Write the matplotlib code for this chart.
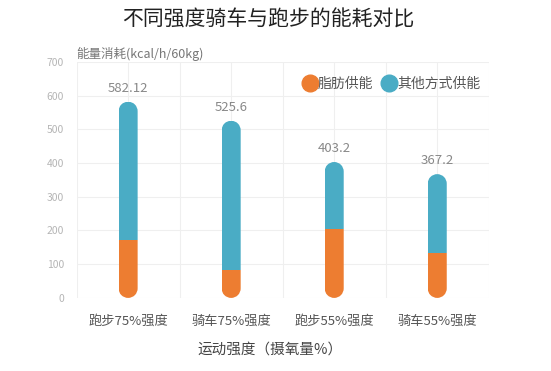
import numpy as np
import matplotlib
matplotlib.use('Agg')
import matplotlib.pyplot as plt
from matplotlib.patches import PathPatch
from matplotlib.path import Path
from matplotlib.lines import Line2D

plt.rcParams['font.family'] = ['Noto Sans CJK SC', 'DejaVu Sans']

# data
categories = ['跑步75%强度', '骑车75%强度', '跑步55%强度', '骑车55%强度']
totals = [582.12, 525.6, 403.2, 367.2]
fat = [173, 84, 205, 132]
other = [t - f for t, f in zip(totals, fat)]
series_names = ['脂肪供能', '其他方式供能']
colors = ['#ED7D31', '#4AACC5']

fig = plt.figure(figsize=(5.51, 3.71), dpi=100)
ax = fig.add_axes([0.139, 0.197, 0.748, 0.636])

x = np.arange(len(categories))
w = 0.185
ax.set_xlim(-0.5, 3.5)
ax.set_ylim(0, 700)

# grid
for gx in np.arange(-0.5, 3.51, 0.5):
    ax.axvline(gx, color='#efefef', lw=0.8, zorder=0)
for gy in range(0, 701, 100):
    ax.axhline(gy, color='#efefef', lw=0.8, zorder=0)

# radius of the round ends in y units
bb = ax.get_position()
px_x = bb.width * fig.get_figwidth() * fig.dpi / 4.0
px_y = bb.height * fig.get_figheight() * fig.dpi / 700.0
ry = (w / 2) * px_x / px_y


def capsule(xc, top):
    # top half circle then bottom half circle, joined by straight sides
    a1 = Path.arc(0, 180)
    a2 = Path.arc(180, 360)
    v1 = a1.vertices * [w / 2, ry] + [xc, top - ry]
    v2 = a2.vertices * [w / 2, ry] + [xc, ry]
    verts = np.vstack([v1, v2, v1[:1]])
    codes = np.concatenate([a1.codes, [Path.LINETO], a2.codes[1:], [Path.CLOSEPOLY]])
    return Path(verts, codes)


b1 = ax.bar(x, fat, w, color=colors[0], zorder=2)
b2 = ax.bar(x, other, w, bottom=fat, color=colors[1], zorder=2)
for i in range(len(categories)):
    cap = PathPatch(capsule(x[i], totals[i]), transform=ax.transData,
                    facecolor='none', edgecolor='none')
    ax.add_patch(cap)
    b1[i].set_clip_path(cap)
    b2[i].set_clip_path(cap)
    ax.text(x[i], totals[i] + 20, str(totals[i]), ha='center', va='bottom',
            fontsize=9.5, color='#888888')

for s in ax.spines.values():
    s.set_visible(False)
ax.set_xticks(x)
ax.set_xticklabels(categories, fontsize=9.5, color='#555555')
ax.set_yticks(range(0, 701, 100))
ax.tick_params(axis='y', labelsize=7.5, labelcolor='#b5b5b5', length=0, pad=9)
ax.tick_params(axis='x', length=0, pad=12)

handles = [Line2D([], [], marker='o', ls='', markersize=12, color=c) for c in colors]
ax.legend(handles, series_names, loc='upper right', bbox_to_anchor=(1.01, 0.99),
          frameon=False, fontsize=10, labelcolor='#555555', ncol=2,
          handletextpad=0.0, columnspacing=0.5, handlelength=1.2)

fig.text(76 / 551, 1 - 54 / 371, '能量消耗(kcal/h/60kg)', fontsize=9,
         color='#777777', va='center', ha='left')
fig.text(268 / 551, 1 - 20 / 371, '不同强度骑车与跑步的能耗对比', fontsize=15,
         color='#222222', ha='center', va='center')
fig.text(270 / 551, 1 - 350 / 371, '运动强度（摄氧量%）', fontsize=10.5,
         color='#444444', ha='center', va='center')

fig.savefig('out.png', dpi=100)
